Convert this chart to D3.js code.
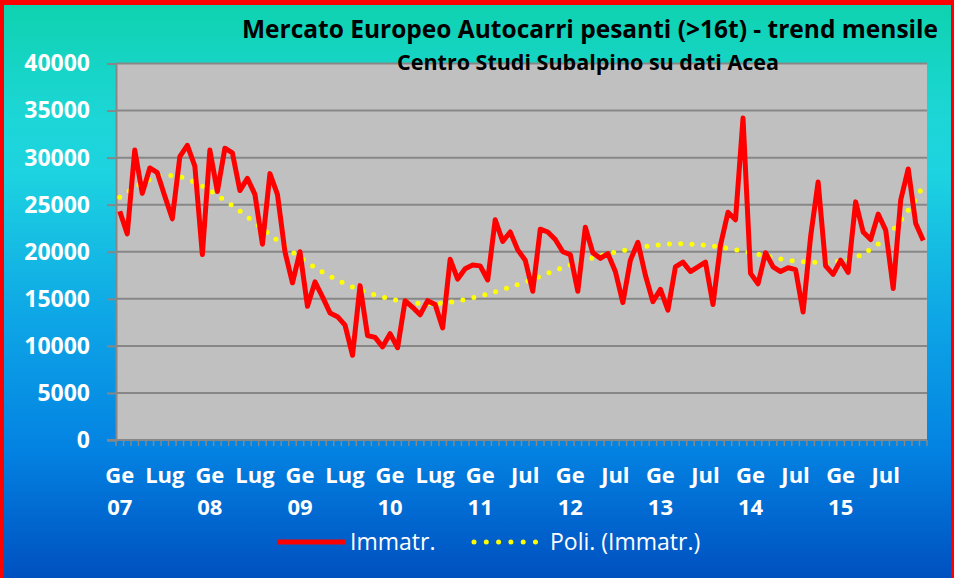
<!DOCTYPE html>
<html>
<head>
<meta charset="utf-8">
<script src="https://cdn.jsdelivr.net/npm/d3@7"></script>
<style>
  body { margin: 0; }
  svg { display: block; }
</style>
</head>
<body>
<div id="chart"></div>
<script>
// monthly registrations, Jan 2007 - Dec 2015
var immatr = [
  24300, 21900, 30800, 26200, 28900, 28400, 25900, 23500, 30100, 31300, 29100, 19700,
  30800, 26400, 31000, 30500, 26500, 27800, 26100, 20800, 28300, 26100, 20000, 16700,
  20000, 14200, 16800, 15200, 13500, 13100, 12200, 9000, 16400, 11100, 10900, 9900,
  11300, 9800, 14800, 14100, 13300, 14800, 14400, 11900, 19200, 17100, 18200, 18600,
  18500, 17000, 23400, 21100, 22100, 20200, 19100, 15800, 22400, 22100, 21300, 20000,
  19700, 15800, 22600, 19900, 19300, 19800, 17900, 14600, 19100, 21000, 17500, 14700,
  16000, 13800, 18400, 18900, 17900, 18400, 18900, 14400, 20700, 24200, 23400, 34200,
  17700, 16600, 19900, 18400, 17900, 18300, 18100, 13600, 21600, 27400, 18500, 17600,
  19100, 17800, 25300, 22100, 21300, 24000, 22300, 16100, 25500, 28800, 23000, 21200
];

// polynomial trend line at these month indexes
var trendMonth = [0, 6, 12, 18, 24, 30, 36, 42, 48, 54, 60, 66, 72, 78, 84, 90, 96, 99, 102, 105, 107];
var trendValue = [25800, 28100, 26500, 23100, 19400, 16600, 15000, 14500, 15300, 16800, 18600,
                  19950, 20750, 20700, 19900, 19000, 19000, 19800, 21500, 24400, 27000];

var tickMonth = ["Ge", "Lug", "Ge", "Lug", "Ge", "Lug", "Ge", "Lug", "Ge", "Jul",
                 "Ge", "Jul", "Ge", "Jul", "Ge", "Jul", "Ge", "Jul"];
var tickYear = ["07", "", "08", "", "09", "", "10", "", "11", "", "12", "", "13", "", "14", "", "15", ""];

var yTicks = [0, 5000, 10000, 15000, 20000, 25000, 30000, 35000, 40000];

var width = 954, height = 578;
var plotLeft = 116, plotRight = 927, plotTop = 63.5, plotBottom = 440;

var svg = d3.select("#chart").append("svg")
    .attr("width", width)
    .attr("height", height);

var grad = svg.append("defs").append("linearGradient")
    .attr("id", "bg")
    .attr("x1", 0).attr("y1", 0).attr("x2", 0).attr("y2", 1);
grad.selectAll("stop")
  .data([[0, "#0ed2ae"], [0.2, "#1cd6d6"], [0.3, "#1dd3e0"], [0.55, "#0ea6e6"], [0.78, "#0382e2"], [1, "#0050c0"]])
  .join("stop")
    .attr("offset", d => d[0])
    .attr("stop-color", d => d[1]);

svg.append("rect")
    .attr("width", width)
    .attr("height", height)
    .attr("fill", "url(#bg)");

// red frame (top, left, right)
svg.append("rect").attr("x", 0).attr("y", 0).attr("width", width).attr("height", 5).attr("fill", "#ff0000");
svg.append("rect").attr("x", 0).attr("y", 0).attr("width", 4).attr("height", height).attr("fill", "#ff0000");
svg.append("rect").attr("x", width - 3).attr("y", 0).attr("width", 3).attr("height", height).attr("fill", "#ff0000");

var x = d3.scaleBand()
    .domain(d3.range(immatr.length))
    .range([plotLeft, plotRight])
    .padding(0);

var cx = i => x(i) + x.bandwidth() / 2;

var y = d3.scaleLinear()
    .domain([0, 40000])
    .range([plotBottom, plotTop]);

svg.append("rect")
    .attr("x", plotLeft)
    .attr("y", plotTop)
    .attr("width", plotRight - plotLeft)
    .attr("height", plotBottom - plotTop)
    .attr("fill", "#c0c0c0");

// gridlines
svg.append("g")
  .selectAll("line")
  .data(yTicks.slice(1))
  .join("line")
    .attr("x1", plotLeft)
    .attr("x2", plotRight)
    .attr("y1", d => y(d))
    .attr("y2", d => y(d))
    .attr("stroke", "#878787")
    .attr("stroke-width", 2);

// y axis
var yAxis = svg.append("g")
    .attr("transform", `translate(${plotLeft},0)`)
    .call(d3.axisLeft(y).tickValues(yTicks).tickSize(9).tickFormat(d3.format("d")));
yAxis.select(".domain").attr("stroke", "#878787").attr("stroke-width", 2);
yAxis.selectAll(".tick line").attr("stroke", "#878787").attr("stroke-width", 2);
yAxis.selectAll(".tick text")
    .attr("x", -26)
    .attr("fill", "#ffffff")
    .style("font", "bold 23px 'Open Sans'");

// x axis baseline and category ticks
svg.append("line")
    .attr("x1", plotLeft - 9).attr("x2", plotRight)
    .attr("y1", plotBottom).attr("y2", plotBottom)
    .attr("stroke", "#878787").attr("stroke-width", 2);

svg.append("g")
  .selectAll("line")
  .data(d3.range(immatr.length + 1))
  .join("line")
    .attr("x1", d => d < immatr.length ? x(d) : plotRight)
    .attr("x2", d => d < immatr.length ? x(d) : plotRight)
    .attr("y1", plotBottom)
    .attr("y2", plotBottom + 6)
    .attr("stroke", "#878787")
    .attr("stroke-width", 1.5);

var xLabels = svg.append("g")
    .attr("fill", "#ffffff")
    .style("font", "bold 22px 'Open Sans'")
    .attr("text-anchor", "middle");

xLabels.selectAll("text.m")
  .data(tickMonth)
  .join("text")
    .attr("class", "m")
    .attr("x", (d, i) => cx(i * 6))
    .attr("y", 483)
    .text(d => d);

xLabels.selectAll("text.yr")
  .data(tickYear)
  .join("text")
    .attr("class", "yr")
    .attr("x", (d, i) => cx(i * 6))
    .attr("y", 515)
    .text(d => d);

// trend line
var trend = trendMonth.map((m, i) => [m, trendValue[i]]);
svg.append("path")
    .datum(trend)
    .attr("fill", "none")
    .attr("stroke", "#ffff00")
    .attr("stroke-width", 5)
    .attr("stroke-linecap", "round")
    .attr("stroke-dasharray", "0 11.3")
    .attr("d", d3.line().x(d => cx(d[0])).y(d => y(d[1])).curve(d3.curveNatural));

// registrations
svg.append("path")
    .datum(immatr)
    .attr("fill", "none")
    .attr("stroke", "#ff0000")
    .attr("stroke-width", 5)
    .attr("stroke-linejoin", "round")
    .attr("d", d3.line().x((d, i) => cx(i)).y(d => y(d)));

// titles
svg.append("text")
    .attr("x", 590)
    .attr("y", 38)
    .attr("text-anchor", "middle")
    .style("font", "bold 24.5px 'Open Sans'")
    .attr("fill", "#000000")
    .text("Mercato Europeo Autocarri pesanti (>16t) - trend mensile");

svg.append("text")
    .attr("x", 588)
    .attr("y", 70)
    .attr("text-anchor", "middle")
    .style("font", "bold 21.5px 'Open Sans'")
    .attr("fill", "#000000")
    .text("Centro Studi Subalpino su dati Acea");

// legend
var legend = svg.append("g")
    .style("font", "23px 'Open Sans'")
    .attr("fill", "#ffffff");

legend.append("line")
    .attr("x1", 277).attr("x2", 345)
    .attr("y1", 542).attr("y2", 542)
    .attr("stroke", "#ff0000")
    .attr("stroke-width", 5);
legend.append("text")
    .attr("x", 350).attr("y", 550)
    .text("Immatr.");

legend.append("line")
    .attr("x1", 474).attr("x2", 536)
    .attr("y1", 542).attr("y2", 542)
    .attr("stroke", "#ffff00")
    .attr("stroke-width", 5)
    .attr("stroke-linecap", "round")
    .attr("stroke-dasharray", "0 12.3");
legend.append("text")
    .attr("x", 550).attr("y", 550)
    .text("Poli. (Immatr.)");
</script>
</body>
</html>
